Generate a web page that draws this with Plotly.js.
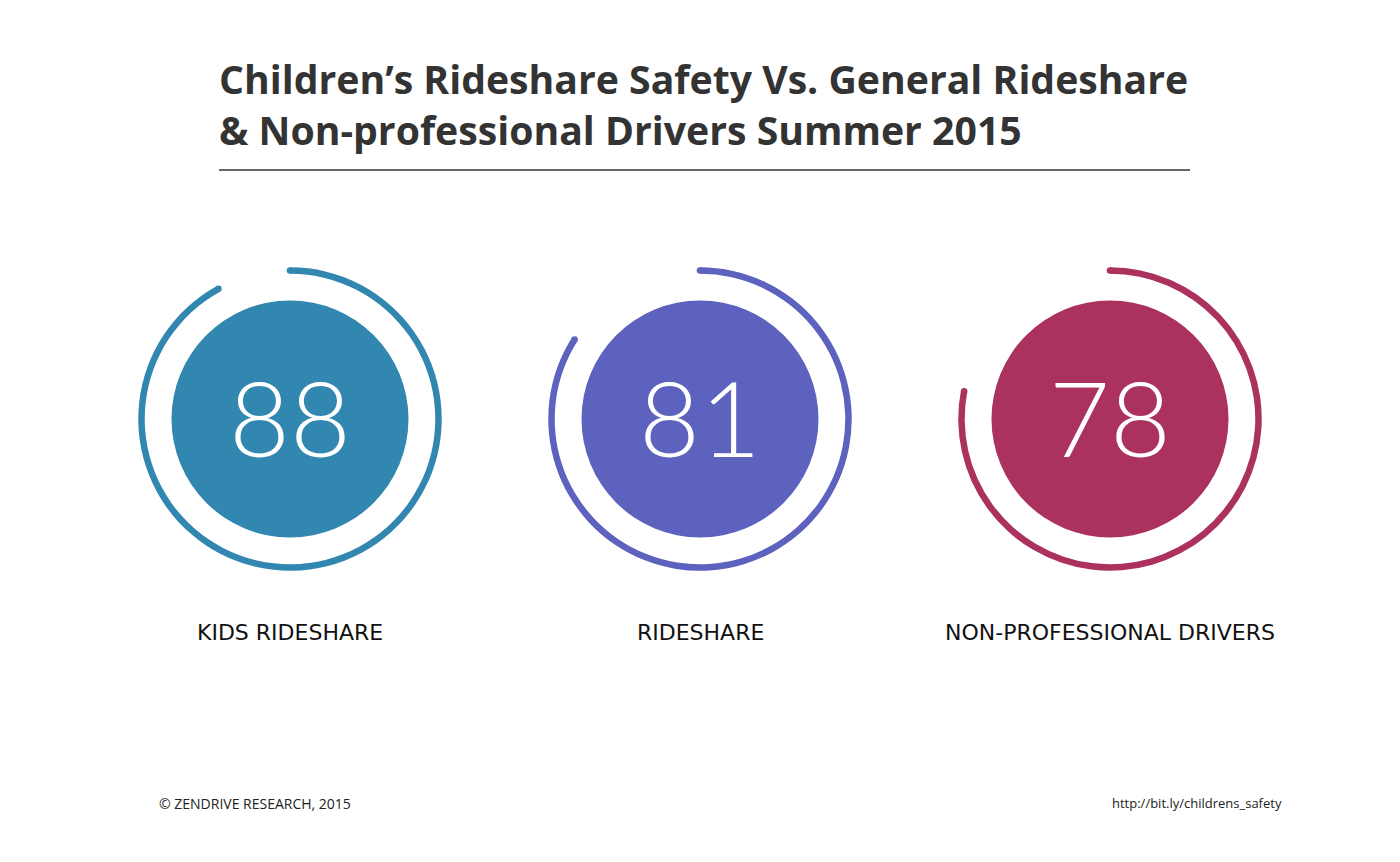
<!DOCTYPE html>
<html>
<head>
<meta charset="utf-8">
<script src="https://cdn.plot.ly/plotly-3.0.1.min.js"></script>
<style>
  html, body { margin: 0; padding: 0; background: #ffffff; }
  #chart { width: 1400px; height: 862px; }
</style>
</head>
<body>
<div id="chart"></div>
<script>
// ---- Data ----
const categories = ["KIDS RIDESHARE", "RIDESHARE", "NON-PROFESSIONAL DRIVERS"];
const scores = [88, 81, 78];
// share of the full circle covered by each outer ring (as drawn)
const ringPercent = [92, 84, 78];
const colors = ["#3287b1", "#5c62be", "#ab315f"];
const titleLines = ["Children’s Rideshare Safety Vs. General Rideshare", "& Non-professional Drivers Summer 2015"];
const footerLeft = "© ZENDRIVE RESEARCH, 2015";
const footerRight = "http://bit.ly/childrens_safety";

// ---- Layout geometry (pixels) ----
const W = 1400, H = 862;
const centersX = [290, 700, 1110];
const centerY = 419;
const half = 160;            // polar domain half-size -> radial range 0..160 == 1px per unit
const discR = 118.5;
const ringMid = 148.5;
const ringW = 6.5;
const textFont = "'Open Sans', Lato, sans-serif";
const labelFont = "'DejaVu Sans', 'Open Sans', sans-serif";

const traces = [];
const layout = {
  width: W, height: H,
  margin: {l: 0, r: 0, t: 0, b: 0},
  paper_bgcolor: "#ffffff",
  showlegend: false,
  annotations: [],
  shapes: [{
    type: "line", xref: "paper", yref: "paper",
    x0: 219 / W, x1: 1190 / W, y0: (H - 170) / H, y1: (H - 170) / H,
    line: {color: "#333333", width: 1.5}
  }]
};

categories.forEach((cat, i) => {
  const pid = i === 0 ? "polar" : "polar" + (i + 1);
  layout[pid] = {
    domain: {
      x: [(centersX[i] - half) / W, (centersX[i] + half) / W],
      y: [(H - centerY - half) / H, (H - centerY + half) / H]
    },
    bgcolor: "rgba(0,0,0,0)",
    radialaxis: {visible: false, range: [0, half]},
    angularaxis: {visible: false, rotation: 90, direction: "clockwise"},
    barmode: "overlay"
  };
  const arc = ringPercent[i] / 100 * 360;
  // filled disc
  traces.push({
    type: "barpolar", subplot: pid,
    r: [discR], theta: [180], width: [360], base: [0],
    marker: {color: colors[i], line: {width: 0}},
    hoverinfo: "skip"
  });
  // outer ring arc
  traces.push({
    type: "barpolar", subplot: pid,
    r: [ringW], base: [ringMid - ringW / 2], theta: [arc / 2], width: [arc],
    marker: {color: colors[i], line: {width: 0}},
    hoverinfo: "skip"
  });
  // round caps at the ring ends
  traces.push({
    type: "scatterpolar", subplot: pid, mode: "markers",
    r: [ringMid, ringMid], theta: [0, arc],
    marker: {color: colors[i], size: ringW, line: {width: 0}},
    hoverinfo: "skip"
  });
  // score number
  layout.annotations.push({
    xref: "paper", yref: "paper",
    x: centersX[i] / W, y: (H - centerY) / H,
    xanchor: "center", yanchor: "middle",
    text: String(scores[i]), showarrow: false,
    font: {family: "Lato, 'Open Sans', sans-serif", size: 105, color: "#ffffff", weight: 300},
    yshift: 3
  });
  // category label
  layout.annotations.push({
    xref: "paper", yref: "paper",
    x: centersX[i] / W, y: (H - 632) / H,
    xanchor: "center", yanchor: "middle",
    text: cat, showarrow: false,
    font: {family: labelFont, size: 22, color: "#111111"}
  });
});

// Title
titleLines.forEach((line, k) => {
  layout.annotations.push({
    xref: "paper", yref: "paper",
    x: 217 / W, y: (H - (78 + k * 52)) / H,
    xanchor: "left", yanchor: "middle",
    text: "<b>" + line + "</b>", showarrow: false,
    font: {family: textFont, size: 39.2, color: "#333333"}
  });
});

// Footer
layout.annotations.push({
  xref: "paper", yref: "paper", x: 157 / W, y: (H - 803) / H,
  xanchor: "left", yanchor: "middle", text: footerLeft, showarrow: false,
  font: {family: textFont, size: 14, color: "#222222"}
});
layout.annotations.push({
  xref: "paper", yref: "paper", x: 1284 / W, y: (H - 803) / H,
  xanchor: "right", yanchor: "middle", text: footerRight, showarrow: false,
  font: {family: textFont, size: 13, color: "#222222"}
});

Plotly.newPlot("chart", traces, layout, {staticPlot: true, displayModeBar: false});
</script>
</body>
</html>
